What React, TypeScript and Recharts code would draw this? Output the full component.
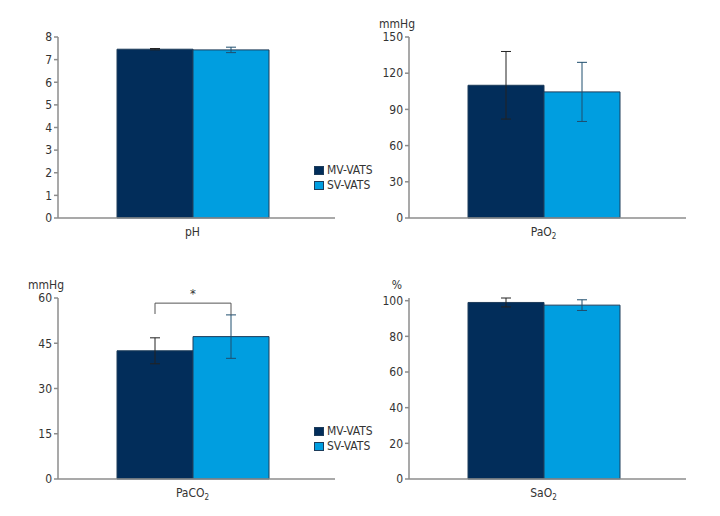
import { BarChart, Bar, XAxis, YAxis, ErrorBar, Legend, LabelList } from 'recharts';

const seriesNames = ['MV-VATS', 'SV-VATS'];
const panelTitles = ['pH', 'PaO2', 'PaCO2', 'SaO2'];
const unitLabels = ['', 'mmHg', 'mmHg', '%'];
const mvMeans = [7.46, 110, 42.5, 99];
const mvErrors = [0.03, 28, 4.3, 2.5];
const svMeans = [7.43, 104.5, 47.2, 97.5];
const svErrors = [0.12, 24.5, 7.2, 3];
const yMax = [8, 150, 60, 100];
const yTicks = [
  [0, 1, 2, 3, 4, 5, 6, 7, 8],
  [0, 30, 60, 90, 120, 150],
  [0, 15, 30, 45, 60],
  [0, 20, 40, 60, 80, 100],
];
// significance bracket on PaCO2: line level, left/right drop ends, star level
const bracketLevels = [58.3, 54.7, 54.4, 59.9];

const FONT = '"Liberation Sans Narrow", "DejaVu Sans Condensed", sans-serif';
const DARK = '#022d5a';
const LIGHT = '#009ee0';
const AXIS = '#8c8c8c';

const positions = [
  { left: 0, top: 0 },
  { left: 351, top: 0 },
  { left: 0, top: 261 },
  { left: 351, top: 261 },
];

const SubTick = (props: any) => {
  const { x, y, payload } = props;
  const v: string = payload.value;
  const m = v.match(/^(.*\D)(\d)$/);
  return (
    <text x={x} y={y + 10} textAnchor="middle" fontSize={12} fill="#333" fontFamily={FONT}>
      {m ? (
        <>
          <tspan>{m[1]}</tspan>
          <tspan fontSize={8} dy={3}>{m[2]}</tspan>
        </>
      ) : (
        v
      )}
    </text>
  );
};

const Bracket = (props: any) => {
  const vb = props.viewBox || props;
  const value = Number(props.value);
  if (!vb || !value) return null;
  const base = vb.y + vb.height;
  const k = vb.height / value;
  const x1 = vb.x + vb.width / 2;
  const x2 = vb.x + vb.width * 1.5;
  const yl = base - bracketLevels[0] * k;
  return (
    <g>
      <polyline
        points={`${x1},${base - bracketLevels[1] * k} ${x1},${yl} ${x2},${yl} ${x2},${base - bracketLevels[2] * k}`}
        fill="none"
        stroke="#555"
        strokeWidth={1}
      />
      <text x={(x1 + x2) / 2} y={base - bracketLevels[3] * k} textAnchor="middle" fontSize={13} fill="#333" fontFamily={FONT}>
        *
      </text>
    </g>
  );
};

const LegendBox = (props: any) => {
  const items = props.payload || [];
  return (
    <div style={{ fontFamily: FONT, fontSize: 12, color: '#333', lineHeight: '13px' }}>
      {items.map((it: any) => (
        <div key={it.value} style={{ display: 'flex', alignItems: 'center', height: 13, marginBottom: 2 }}>
          <span
            style={{
              display: 'inline-block',
              width: 10,
              height: 9,
              background: it.color,
              border: '1px solid #1d3c5a',
              boxSizing: 'border-box',
              marginRight: 3,
            }}
          />
          {it.value}
        </div>
      ))}
    </div>
  );
};

function Panel({ i }: { i: number }) {
  const data = [
    {
      name: panelTitles[i],
      mv: mvMeans[i],
      mvErr: mvErrors[i],
      sv: svMeans[i],
      svErr: svErrors[i],
    },
  ];
  const showLegend = i === 0 || i === 2;
  return (
    <div style={{ position: 'absolute', ...positions[i] }}>
      <BarChart
        width={360}
        height={258}
        data={data}
        margin={{ top: 37, right: 25, bottom: 20, left: 28 }}
        barGap={0}
      >
        <XAxis
          dataKey="name"
          stroke={AXIS}
          strokeWidth={1.5}
          tickLine={false}
          height={20}
          padding={{ left: 0, right: 8 }}
          tick={<SubTick />}
        />
        <YAxis
          width={30}
          domain={[0, yMax[i]]}
          ticks={yTicks[i]}
          interval={0}
          stroke={AXIS}
          strokeWidth={1.5}
          tickSize={4}
          tick={{ fontSize: 12, fill: '#333', fontFamily: FONT }}
          label={
            unitLabels[i]
              ? { value: unitLabels[i], position: 'top', offset: 9, dx: 3, fontSize: 12, fill: '#333', fontFamily: FONT }
              : undefined
          }
        />
        {showLegend && (
          <Legend
            layout="vertical"
            align="center"
            verticalAlign="middle"
            content={<LegendBox />}
            wrapperStyle={{ left: 314, top: 164, width: 60 }}
          />
        )}
        <Bar dataKey="mv" name={seriesNames[0]} fill={DARK} stroke="#1d3c5a" strokeWidth={1} barSize={76} isAnimationActive={false}>
          <ErrorBar dataKey="mvErr" width={5} stroke="#222" strokeWidth={1} />
          {i === 2 && <LabelList dataKey="mv" content={<Bracket />} />}
        </Bar>
        <Bar dataKey="sv" name={seriesNames[1]} fill={LIGHT} stroke="#1d3c5a" strokeWidth={1} barSize={76} isAnimationActive={false}>
          <ErrorBar dataKey="svErr" width={5} stroke="#1f4e6e" strokeWidth={1} />
        </Bar>
      </BarChart>
    </div>
  );
}

export default function App() {
  return (
    <div style={{ position: 'absolute', left: 0, top: 0, width: 720, height: 516, background: '#fff' }}>
      {[0, 1, 2, 3].map((i) => (
        <Panel key={i} i={i} />
      ))}
    </div>
  );
}
